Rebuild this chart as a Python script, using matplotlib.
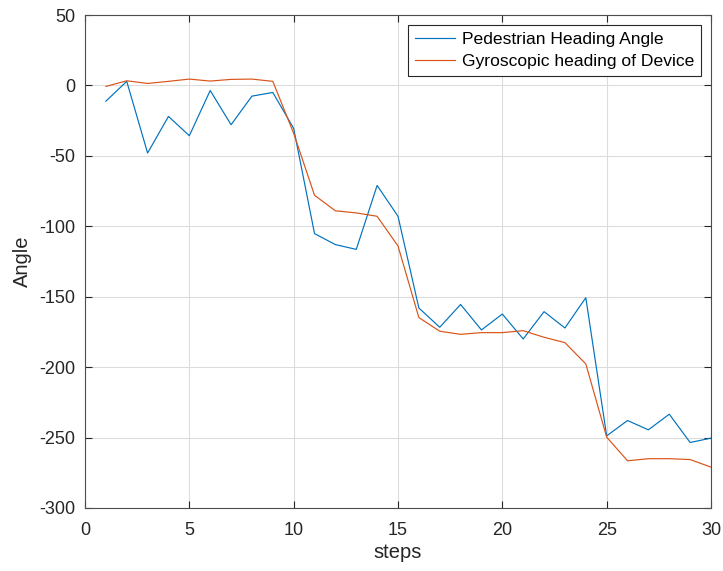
import numpy as np
import matplotlib
matplotlib.use('Agg')
from matplotlib import pyplot as plt

plt.rcParams['font.family'] = ['Liberation Sans', 'DejaVu Sans']
plt.rcParams['axes.unicode_minus'] = False

steps = list(range(1, 31))
pedestrian = [-11.2, 2.9, -48.0, -22.0, -35.7, -3.6, -27.9, -7.6, -5.0, -30.5,
              -105.2, -113.0, -116.4, -71.0, -92.9, -158.0, -171.7, -155.5, -173.6, -162.3,
              -180.0, -160.6, -172.2, -150.7, -248.8, -237.9, -244.5, -233.4, -253.5, -250.4]
gyro = [-0.7, 3.3, 1.4, 2.9, 4.5, 3.1, 4.3, 4.5, 2.9, -34.0,
        -78.0, -89.0, -90.5, -92.9, -114.0, -164.8, -174.5, -176.7, -175.5, -175.5,
        -174.1, -178.8, -182.6, -197.7, -249.7, -266.5, -265.0, -265.0, -265.6, -271.0]

fig = plt.figure(figsize=(7.23, 5.71), dpi=100)
ax = fig.add_axes([85 / 723, 63 / 571, 626 / 723, 493 / 571])

ax.plot(steps, pedestrian, color='#0072BD', lw=0.85, label='Pedestrian Heading Angle')
ax.plot(steps, gyro, color='#D95319', lw=0.85, label='Gyroscopic heading of Device')

ax.set_xlim(0, 30)
ax.set_ylim(-300, 50)
ax.set_xticks(np.arange(0, 31, 5))
ax.set_yticks(np.arange(-300, 51, 50))
ax.grid(True, color='#dcdcdc', lw=0.8)
ax.set_axisbelow(True)
ax.tick_params(direction='in', length=5, labelsize=13, colors='#262626', top=True, right=True)
ax.tick_params(axis='x', pad=10)
ax.tick_params(axis='y', pad=7)
for s in ax.spines.values():
    s.set_color('#4d4d4d')
    s.set_linewidth(0.8)

ax.set_xlabel('steps', fontsize=14.5, color='#262626', labelpad=3)
ax.set_ylabel('Angle', fontsize=14.5, color='#262626', labelpad=5)

leg = ax.legend(loc='upper right', fontsize=12.6, fancybox=False, framealpha=1,
                edgecolor='#262626', borderaxespad=0.55, handlelength=2.3, handletextpad=0.4,
                borderpad=0.4, labelspacing=0.4)
leg.get_frame().set_linewidth(0.8)

fig.savefig('out.png', dpi=100)
